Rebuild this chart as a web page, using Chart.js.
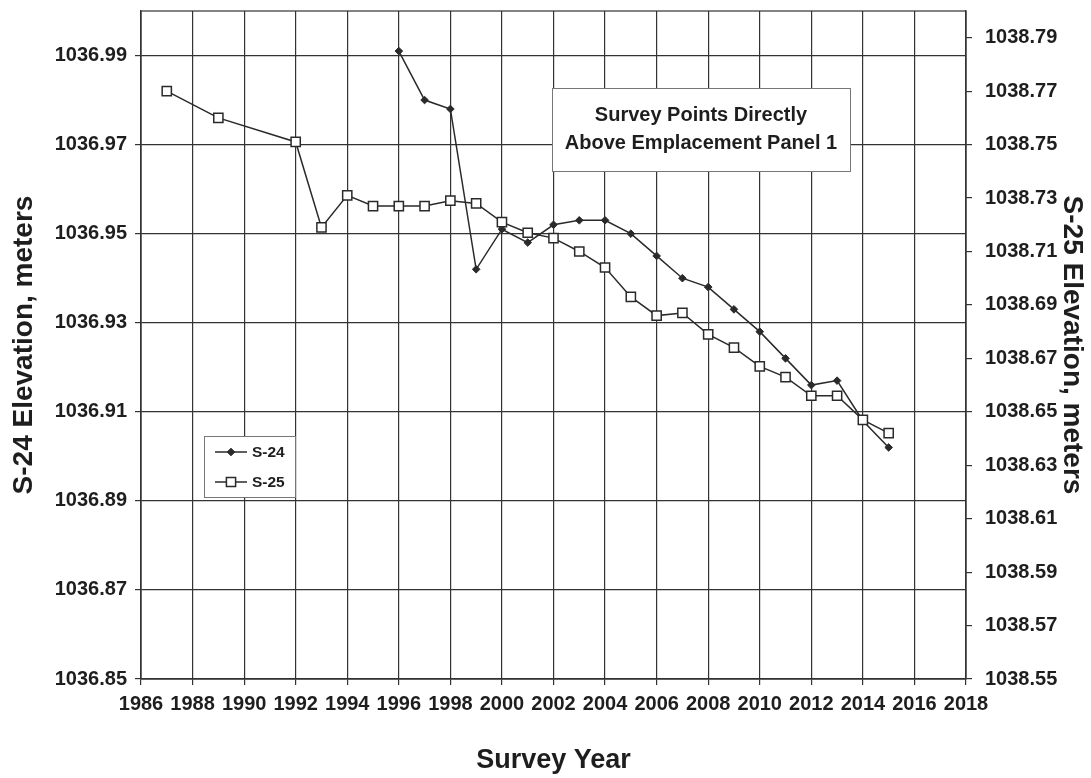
<!DOCTYPE html>
<html>
<head>
<meta charset="utf-8">
<script src="https://cdn.jsdelivr.net/npm/chart.js@4"></script>
<style>
  html, body { margin: 0; padding: 0; background: #fff; }
  #wrap { width: 1091px; height: 778px; position: relative; }
</style>
</head>
<body>
<div id="wrap"><canvas id="chart"></canvas></div>
<script>
// Survey elevations, S-24 (left axis) and S-25 (right axis)
const years24 = [1996, 1997, 1998, 1999, 2000, 2001, 2002, 2003, 2004, 2005, 2006, 2007, 2008, 2009, 2010, 2011, 2012, 2013, 2014, 2015];
const s24 = [1036.991, 1036.980, 1036.978, 1036.942, 1036.951, 1036.948, 1036.952, 1036.953, 1036.953, 1036.950, 1036.945, 1036.940, 1036.938, 1036.933, 1036.928, 1036.922, 1036.916, 1036.917, 1036.908, 1036.902];

const years25 = [1987, 1989, 1992, 1993, 1994, 1995, 1996, 1997, 1998, 1999, 2000, 2001, 2002, 2003, 2004, 2005, 2006, 2007, 2008, 2009, 2010, 2011, 2012, 2013, 2014, 2015];
const s25 = [1038.770, 1038.760, 1038.751, 1038.719, 1038.731, 1038.727, 1038.727, 1038.727, 1038.729, 1038.728, 1038.721, 1038.717, 1038.715, 1038.710, 1038.704, 1038.693, 1038.686, 1038.687, 1038.679, 1038.674, 1038.667, 1038.663, 1038.656, 1038.656, 1038.647, 1038.642];

const xTicks = [1986, 1988, 1990, 1992, 1994, 1996, 1998, 2000, 2002, 2004, 2006, 2008, 2010, 2012, 2014, 2016, 2018];
const leftTicks = [1036.85, 1036.87, 1036.89, 1036.91, 1036.93, 1036.95, 1036.97, 1036.99];
const rightTicks = [1038.55, 1038.57, 1038.59, 1038.61, 1038.63, 1038.65, 1038.67, 1038.69, 1038.71, 1038.73, 1038.75, 1038.77, 1038.79];

const noteLines = ["Survey Points Directly", "Above Emplacement Panel 1"];

const FONT = "'Liberation Sans', Arial, sans-serif";
const GRID = "#333";
const LINE = "#2a2a2a";
const TEXT = "#1e1e1e";

function setTicks(values) {
  return (scale) => { scale.ticks = values.map((v) => ({ value: v })); };
}

function fixWidth(w) {
  return (s) => { s.width = w; s.paddingTop = 0; s.paddingBottom = 0; };
}

// frame, note box and legend — drawn over the grid, under the lines
const overlayPlugin = {
  id: "overlay",
  beforeDatasetsDraw(chart) {
    const { ctx, chartArea: a } = chart;
    ctx.save();
    ctx.strokeStyle = GRID;
    ctx.lineWidth = 1.2;
    ctx.strokeRect(a.left, a.top, a.right - a.left, a.bottom - a.top);

    // note box
    ctx.fillStyle = "#fff";
    ctx.fillRect(552, 88, 298, 83);
    ctx.strokeStyle = "#777";
    ctx.lineWidth = 1;
    ctx.strokeRect(552.5, 88.5, 298, 83);
    ctx.fillStyle = TEXT;
    ctx.font = `bold 20px ${FONT}`;
    ctx.textAlign = "center";
    ctx.textBaseline = "middle";
    ctx.fillText(noteLines[0], 701, 115);
    ctx.fillText(noteLines[1], 701, 143);

    // legend box
    ctx.fillStyle = "#fff";
    ctx.fillRect(204, 436, 91, 61);
    ctx.strokeStyle = "#777";
    ctx.strokeRect(204.5, 436.5, 91, 61);
    ctx.font = `bold 15.5px ${FONT}`;
    ctx.textAlign = "left";
    const rows = [452, 482];
    chart.data.datasets.forEach((ds, i) => {
      const y = rows[i];
      ctx.strokeStyle = ds.borderColor;
      ctx.lineWidth = 1.5;
      ctx.beginPath();
      ctx.moveTo(215, y);
      ctx.lineTo(247, y);
      ctx.stroke();
      ctx.fillStyle = ds.pointBackgroundColor;
      ctx.strokeStyle = ds.pointBorderColor;
      ctx.lineWidth = ds.pointBorderWidth;
      ctx.beginPath();
      if (ds.pointStyle === "rect") {
        const h = ds.pointRadius * Math.SQRT1_2;
        ctx.rect(231 - h, y - h, 2 * h, 2 * h);
      } else {
        const r = ds.pointRadius;
        ctx.moveTo(231, y - r); ctx.lineTo(231 + r, y); ctx.lineTo(231, y + r); ctx.lineTo(231 - r, y); ctx.closePath();
      }
      ctx.fill();
      ctx.stroke();
      ctx.fillStyle = TEXT;
      ctx.fillText(ds.label, 252, y + 1);
    });
    ctx.restore();
  },
};

new Chart(document.getElementById("chart"), {
  type: "line",
  data: {
    datasets: [
      {
        label: "S-24",
        yAxisID: "y",
        order: 2,
        data: years24.map((x, i) => ({ x, y: s24[i] })),
        borderColor: LINE,
        borderWidth: 1.5,
        pointStyle: "rectRot",
        pointRadius: 3.8,
        pointBackgroundColor: LINE,
        pointBorderColor: LINE,
        pointBorderWidth: 1,
        tension: 0,
      },
      {
        label: "S-25",
        yAxisID: "y2",
        order: 1,
        data: years25.map((x, i) => ({ x, y: s25[i] })),
        borderColor: LINE,
        borderWidth: 1.5,
        pointStyle: "rect",
        pointRadius: 6.5,
        pointBackgroundColor: "#fff",
        pointBorderColor: LINE,
        pointBorderWidth: 1.5,
        tension: 0,
      },
    ],
  },
  options: {
    responsive: true,
    maintainAspectRatio: false,
    animation: false,
    layout: { padding: { top: 11, left: 0, right: 0, bottom: 0 } },
    plugins: { legend: { display: false }, tooltip: { enabled: false } },
    scales: {
      x: {
        type: "linear",
        min: 1986,
        max: 2018,
        afterBuildTicks: setTicks(xTicks),
        afterFit: (s) => { s.height = 99; },
        grid: { color: GRID, lineWidth: 1.2, tickLength: 6 },
        border: { color: GRID, width: 1.2 },
        ticks: { autoSkip: false, maxRotation: 0, padding: 7, color: TEXT, font: { family: FONT, size: 20, weight: "bold" }, callback: (v) => String(v) },
        title: { display: true, text: "Survey Year", color: TEXT, padding: { top: 0, bottom: 4 }, font: { family: FONT, size: 27, weight: "bold", lineHeight: 1 } },
      },
      y: {
        position: "left",
        min: 1036.85,
        max: 1037.0,
        afterBuildTicks: setTicks(leftTicks),
        afterFit: fixWidth(141),
        grid: { color: GRID, lineWidth: 1.2, tickLength: 6 },
        border: { color: GRID, width: 1.2 },
        ticks: { padding: 8, color: TEXT, font: { family: FONT, size: 20, weight: "bold" }, callback: (v) => v.toFixed(2) },
        title: { display: true, text: "S-24 Elevation, meters", color: TEXT, padding: { top: 10, bottom: 0 }, font: { family: FONT, size: 28, weight: "bold", lineHeight: 1 } },
      },
      y2: {
        position: "right",
        min: 1038.55,
        max: 1038.8,
        afterBuildTicks: setTicks(rightTicks),
        afterFit: fixWidth(125),
        grid: { drawOnChartArea: false, color: GRID, lineWidth: 1.2, tickLength: 6 },
        border: { color: GRID, width: 1.2 },
        ticks: { padding: 13, color: TEXT, font: { family: FONT, size: 20, weight: "bold" }, callback: (v) => v.toFixed(2) },
        title: { display: true, text: "S-25 Elevation, meters", color: TEXT, padding: { top: 5, bottom: 0 }, font: { family: FONT, size: 28, weight: "bold", lineHeight: 1 } },
      },
    },
  },
  plugins: [overlayPlugin],
});
</script>
</body>
</html>
